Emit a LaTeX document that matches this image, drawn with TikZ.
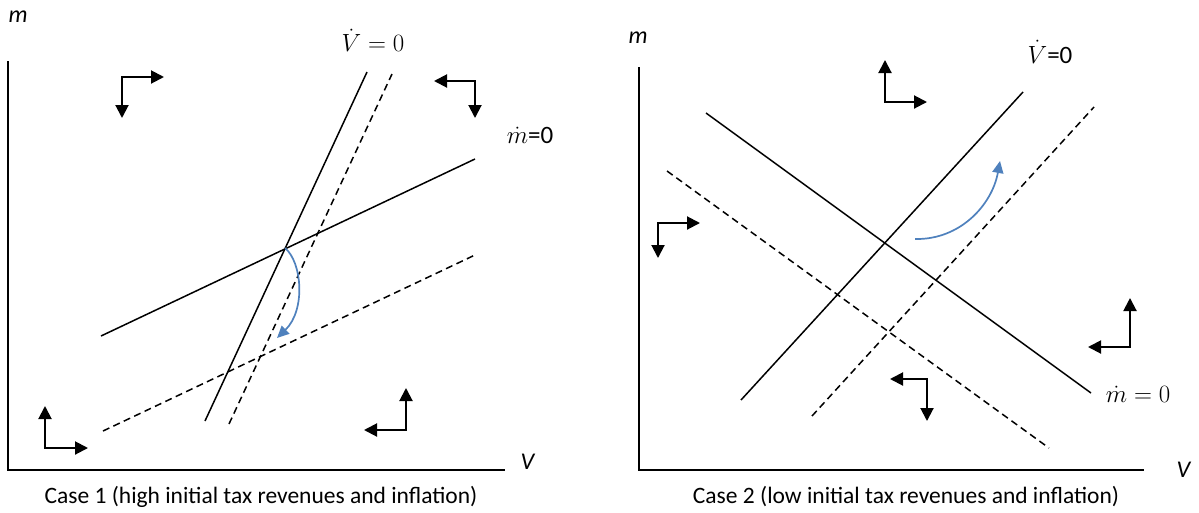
\documentclass[tikz,border=0pt]{standalone}
\usepackage{fontspec}
\setmainfont{Carlito}
\usetikzlibrary{arrows.meta}
\definecolor{arcblue}{RGB}{79,129,189}
\begin{document}
\begin{tikzpicture}[x=1pt,y=-1pt,
  ax/.style={line width=2.2pt},
  curve/.style={line width=1.5pt},
  dcurve/.style={curve, dash pattern=on 7pt off 4.5pt},
  dir/.style={line width=2pt, line join=miter, {Triangle[length=13pt,width=13pt]}-{Triangle[length=13pt,width=13pt]}},
  blarc/.style={arcblue, line width=1.7pt, -{Triangle[length=12pt,width=11pt]}},
  lbl/.style={inner sep=0pt, font=\fontsize{24}{26}\selectfont},
  mathlbl/.style={inner sep=0pt, font=\fontsize{25}{27}\selectfont},
  captext/.style={inner sep=0pt, font=\fontsize{23.5}{26}\selectfont}]
\useasboundingbox (0,0) rectangle (1199,512);
% ---------- Case 1 ----------
\coordinate (o1) at (8,470);
\coordinate (y1) at (8,61);
\coordinate (x1) at (505,470);
\draw[ax] (y1) -- (o1) -- (x1);
\node[lbl] (m1) at (18,17) {\textit{m}};
\node[lbl] (V1) at (528,462) {\textit{V}};
\node[mathlbl] (vd1) at (373,40) {$\dot V = 0$};
\node[mathlbl] (md1) at (530,135) {$\dot m$=0};
\coordinate (a1) at (205,421); \coordinate (a2) at (367,72);
\coordinate (b1) at (229,424); \coordinate (b2) at (392,74);
\coordinate (c1) at (101,336); \coordinate (c2) at (475,159);
\coordinate (d1) at (103,431); \coordinate (d2) at (475,255);
\draw[curve] (a1) -- (a2);
\draw[dcurve] (b1) -- (b2);
\draw[curve] (c1) -- (c2);
\draw[dcurve] (d1) -- (d2);
\coordinate (e1) at (285,248); \coordinate (f1) at (277,338);
\draw[blarc] (e1) .. controls (302,262) and (306,310) .. (f1);
% direction arrows
\coordinate (p1) at (122,77);
\coordinate (p1a) at (164,77); \coordinate (p1b) at (122,118);
\draw[dir] (p1b) -- (p1) -- (p1a);
\coordinate (p2) at (475,81);
\coordinate (p2a) at (434,81); \coordinate (p2b) at (475,118);
\draw[dir] (p2a) -- (p2) -- (p2b);
\coordinate (p3) at (45,448);
\coordinate (p3a) at (45,406); \coordinate (p3b) at (88,448);
\draw[dir] (p3a) -- (p3) -- (p3b);
\coordinate (p4) at (406,430);
\coordinate (p4a) at (406,388); \coordinate (p4b) at (364,430);
\draw[dir] (p4a) -- (p4) -- (p4b);
\node[captext] (cap1) at (261,497) {Case 1 (high initial tax revenues and inflation)};
% ---------- Case 2 ----------
\coordinate (o2) at (639,470);
\coordinate (y2) at (639,67);
\coordinate (x2) at (1144,470);
\draw[ax] (y2) -- (o2) -- (x2);
\node[lbl] (m2) at (638,38) {\textit{m}};
\node[lbl] (V2) at (1184,470) {\textit{V}};
\node[mathlbl] (vd2) at (1050,52) {$\dot V$=0};
\node[mathlbl] (md2) at (1138,394) {$\dot m = 0$};
\coordinate (g1) at (741,400); \coordinate (g2) at (1023,92);
\coordinate (h1) at (812,416); \coordinate (h2) at (1094,107);
\coordinate (i1) at (706,113); \coordinate (i2) at (1091,393);
\coordinate (j1) at (667,171); \coordinate (j2) at (1049,448);
\draw[curve] (g1) -- (g2);
\draw[dcurve] (h1) -- (h2);
\draw[curve] (i1) -- (i2);
\draw[dcurve] (j1) -- (j2);
\coordinate (e2) at (915,239); \coordinate (f2) at (1000,161);
\draw[blarc] (e2) .. controls (960,240) and (992,205) .. (f2);
\coordinate (q1) at (885,102);
\coordinate (q1a) at (885,60); \coordinate (q1b) at (927,102);
\draw[dir] (q1a) -- (q1) -- (q1b);
\coordinate (q2) at (658,223);
\coordinate (q2a) at (700,223); \coordinate (q2b) at (658,258);
\draw[dir] (q2a) -- (q2) -- (q2b);
\coordinate (q3) at (1130,347);
\coordinate (q3a) at (1130,298); \coordinate (q3b) at (1088,347);
\draw[dir] (q3a) -- (q3) -- (q3b);
\coordinate (q4) at (927,379);
\coordinate (q4a) at (890,379); \coordinate (q4b) at (927,421);
\draw[dir] (q4a) -- (q4) -- (q4b);
\node[captext] (cap2) at (906,497) {Case 2 (low initial tax revenues and inflation)};
\end{tikzpicture}
\end{document}
